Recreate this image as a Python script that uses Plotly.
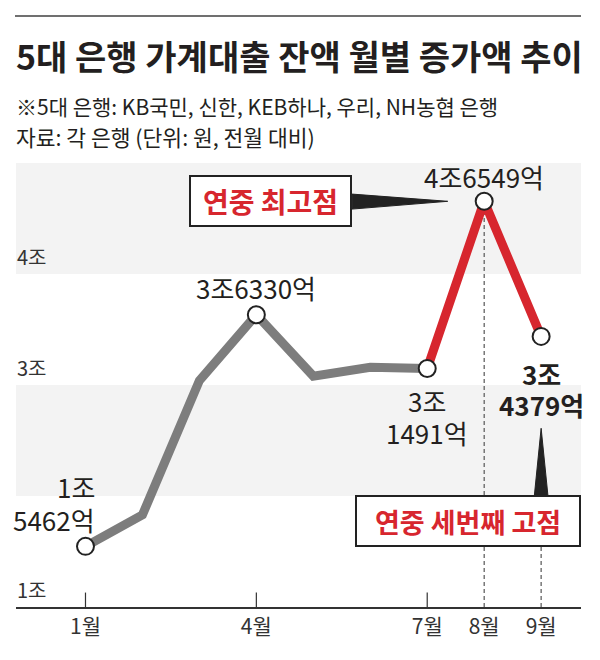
import plotly.graph_objects as go

# ---------------- data ----------------
months = [1, 2, 3, 4, 5, 6, 7, 8, 9]
values = [1.5462, 1.83, 3.04, 3.6330, 3.08, 3.16, 3.1491, 4.6549, 3.4379]  # 단위: 조원
gray_months = [1, 2, 3, 4, 5, 6, 7]
red_months = [7, 8, 9]
marked_months = [1, 4, 7, 8, 9]
tick_months = [1, 4, 7, 8, 9]
tick_labels = ["1월", "4월", "7월", "8월", "9월"]
solid_tick_months = [1, 4, 7]
y_label_vals = [1, 3, 4]
y_label_texts = ["1조", "3조", "4조"]
band_ranges = [(2, 3), (4, 5)]

title = "5대 은행 가계대출 잔액 월별 증가액 추이"
sub1 = "※5대 은행: KB국민, 신한, KEB하나, 우리, NH농협 은행"
sub2 = "자료: 각 은행 (단위: 원, 전월 대비)"

FONT = "Noto Sans CJK KR"
DARK = "#231f20"
RED = "#d7262e"
GRAY = "#7d7d7d"

W, H = 600, 660
val = dict(zip(months, values))

fig = go.Figure()

# bands
shapes = []
for lo, hi in band_ranges:
    shapes.append(dict(type="rect", xref="paper", yref="y", x0=16 / W, x1=581 / W,
                       y0=lo, y1=hi, fillcolor="#f3f3f3", line_width=0, layer="below"))

# top rule
shapes.append(dict(type="line", xref="paper", yref="paper", x0=15 / W, x1=581 / W,
                   y0=1 - 16 / H, y1=1 - 16 / H, line=dict(color="#707070", width=2)))

# tick marks
for m in solid_tick_months:
    shapes.append(dict(type="line", xref="x", yref="y", x0=m, x1=m, y0=1, y1=1.13,
                       line=dict(color="#333", width=1.2)))

# dashed guides
box2_x, box2_y = 7.715, 1.775
shapes.append(dict(type="line", xref="x", yref="y", x0=8, x1=8, y0=1, y1=val[8],
                   line=dict(color="#555", width=1.2, dash="4px,3px"), layer="below"))
shapes.append(dict(type="line", xref="x", yref="y", x0=9, x1=9, y0=1, y1=box2_y,
                   line=dict(color="#555", width=1.2, dash="4px,3px"), layer="below"))

# pointer triangles
box1_x = 4.25
tip1_x = 7.36
base1_x = 5.68
shapes.append(dict(type="path", xref="x", yref="y",
                   path=f"M {base1_x},{val[8]+0.065} L {tip1_x},{val[8]} L {base1_x},{val[8]-0.07} Z",
                   fillcolor="#222", line=dict(color="#222", width=1)))
shapes.append(dict(type="path", xref="x", yref="y",
                   path=f"M {9-0.12},2.0 L 9,2.61 L {9+0.12},2.0 Z",
                   fillcolor="#222", line=dict(color="#222", width=1)))

# lines
fig.add_trace(go.Scatter(x=gray_months, y=[val[m] for m in gray_months], mode="lines",
                         line=dict(color=GRAY, width=9), hoverinfo="skip"))
fig.add_trace(go.Scatter(x=red_months, y=[val[m] for m in red_months], mode="lines",
                         line=dict(color=RED, width=9), hoverinfo="skip"))
fig.add_trace(go.Scatter(x=marked_months, y=[val[m] for m in marked_months], mode="markers",
                         marker=dict(size=17, color="white", line=dict(color="#222", width=2)),
                         hoverinfo="skip"))

ann = []
def txt(x, y, text, size=26, bold=False, color=DARK, xanchor="center", yanchor="middle",
        xref="x", yref="y", **kw):
    ann.append(dict(x=x, y=y, xref=xref, yref=yref, text=text, showarrow=False,
                    xanchor=xanchor, yanchor=yanchor,
                    font=dict(family=FONT, size=size, color=color,
                              weight="bold" if bold else "normal"), **kw))

# titles
txt(14 / W, 1 - 55 / H, title, size=34, bold=True, xanchor="left", xref="paper", yref="paper")
txt(14 / W, 1 - 106 / H, sub1, size=21, xanchor="left", xref="paper", yref="paper")
txt(14 / W, 1 - 137 / H, sub2, size=21.5, xanchor="left", xref="paper", yref="paper")

# y labels
for v, t in zip(y_label_vals, y_label_texts):
    ann.append(dict(x=15 / W, y=v, xref="paper", yref="y", text=t, showarrow=False,
                    xanchor="left", yanchor="bottom", yshift=1,
                    font=dict(family=FONT, size=20, color="#333")))

# value labels
txt(1, val[1], "1조", xanchor="right", xshift=12, yshift=60)
txt(1, val[1], "5462억", xanchor="right", xshift=12, yshift=27)
txt(4, val[4], "3조6330억", yshift=27)
txt(8, val[8], "4조6549억", yshift=25)
txt(7, val[7], "3조", yshift=-32)
txt(7, val[7], "1491억", yshift=-64)
txt(9, val[9], "3조", bold=True, yshift=-37)
txt(9, val[9], "4379억", bold=True, yshift=-68)

# callout boxes
ann.append(dict(x=box1_x, y=val[8], xref="x", yref="y", text="연중 최고점", showarrow=False,
                font=dict(family=FONT, size=28, color=RED, weight="bold"),
                bgcolor="white", bordercolor="#222", borderwidth=2, borderpad=1,
                width=157, height=46))
ann.append(dict(x=box2_x, y=box2_y, xref="x", yref="y", text="연중 세번째 고점", showarrow=False,
                font=dict(family=FONT, size=27, color=RED, weight="bold"),
                bgcolor="white", bordercolor="#222", borderwidth=2, borderpad=1,
                width=220, height=46))

fig.update_layout(
    width=W, height=H, margin=dict(l=0, r=0, t=0, b=0),
    paper_bgcolor="white", plot_bgcolor="rgba(0,0,0,0)",
    showlegend=False, shapes=shapes, annotations=ann,
    font=dict(family=FONT, color=DARK),
    xaxis=dict(domain=[16 / W, 581 / W], range=[-0.22, 9.7], tickvals=tick_months,
               ticktext=tick_labels, ticks="", showgrid=False, zeroline=False,
               showline=True, linecolor="#333", linewidth=1.5,
               tickfont=dict(family=FONT, size=21, color="#333"), fixedrange=True),
    yaxis=dict(domain=[53 / H, 497 / H], range=[1, 5], showticklabels=False,
               showgrid=False, zeroline=False, showline=False, fixedrange=True),
)

fig.write_html("out.html", config={"displayModeBar": False},
               post_script="document.body.style.margin='0';")
